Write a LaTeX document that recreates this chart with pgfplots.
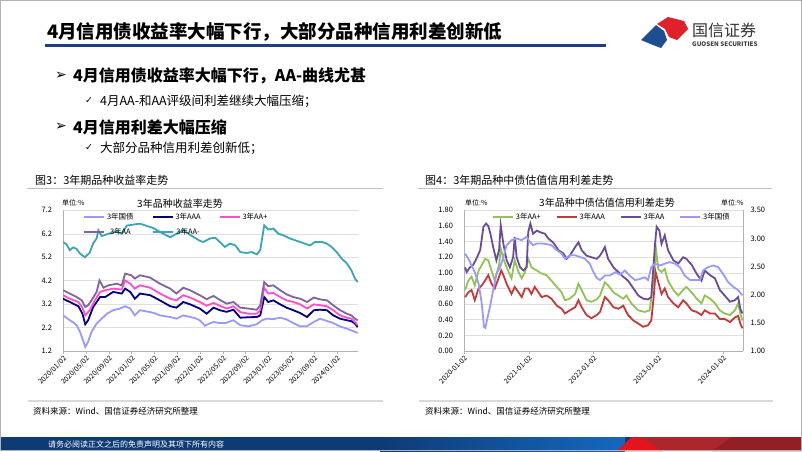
\documentclass[border=0pt]{standalone}
\usepackage{pgfplots}
\pgfplotsset{compat=1.18}
\usepackage{fontspec}
\setmainfont{Noto Sans CJK SC}
\newfontfamily\dejavu{DejaVu Sans}

\definecolor{cGov}{HTML}{9999FF}
\definecolor{cAAA}{HTML}{000080}
\definecolor{cAAp}{HTML}{FF4FC8}
\definecolor{cAA}{HTML}{8064A2}
\definecolor{cAAm}{HTML}{3AA5B5}
\definecolor{rAAp}{HTML}{92C353}
\definecolor{rAAA}{HTML}{C23B3B}
\definecolor{rAA}{HTML}{6A4C9C}
\definecolor{hdr}{HTML}{1F3F7A}
\definecolor{banA}{HTML}{0F3B74}
\definecolor{banB}{HTML}{1668BE}
\definecolor{banR}{HTML}{AC262D}
\definecolor{banRR}{HTML}{E5141C}
\definecolor{banD}{HTML}{931E24}
\definecolor{logoR}{HTML}{E0202A}
\definecolor{logoB}{HTML}{1D4E8F}

\pgfplotsset{
  slide/.style={
    scale only axis,
    axis x line*=bottom, axis y line*=left,
    axis line style={draw=gray!60, line width=0.6pt, -},
    tick align=outside, major tick length=2.5pt,
    xtick style={draw=gray!60},
    ytick style={draw=none},
    ymajorgrids, major grid style={draw=gray!25, line width=0.5pt},
    /pgf/number format/assume math mode=true,
    yticklabel style={font=\fontsize{7.5}{8}\selectfont, xshift=-5pt},
    xticklabel style={rotate=45, anchor=north east, font=\fontsize{7}{8}\selectfont, inner sep=1pt},
    legend image code/.code={\draw[##1] (0pt,0pt) -- (20pt,0pt);},
    every axis plot/.append style={line width=1.8pt},
  }
}

\begin{document}
\begin{tikzpicture}[x=1pt,y=-1pt]
\path[use as bounding box] (0,0) rectangle (802,451);
\fill[white] (0,0) rectangle (802,451);

% header
\node[anchor=west, inner sep=0, font=\fontsize{18.5}{20}\selectfont\bfseries] at (47,32) {4月信用债收益率大幅下行，大部分品种信用利差创新低};
\draw[hdr, line width=2.2pt] (45,45.5) -- (606,45.5);
\fill[logoB] (641,40) -- (656,25) -- (664,31) -- (667,40) -- (661,48) -- (653,45) -- cycle;
\fill[logoR] (657,24) -- (668,17) -- (684,21) -- (688,29) -- (677,40) -- (669,37) -- (665,29) -- cycle;
\node[anchor=west, inner sep=0, font=\fontsize{16}{17}\selectfont, text=black!80] at (692,30) {国信证券};
\node[anchor=west, inner sep=0, font=\fontsize{6.2}{7}\selectfont\bfseries, text=black!75] at (692,44) {GUOSEN SECURITIES};

% bullets
\node[anchor=west, inner sep=0, font=\dejavu\fontsize{14}{15}\selectfont] at (55,76) {➢};
\node[anchor=west, inner sep=0, font=\fontsize{16}{18}\selectfont\bfseries] at (73,76) {4月信用债收益率大幅下行，AA-曲线尤甚};
\node[anchor=west, inner sep=0, font=\dejavu\fontsize{9.5}{10}\selectfont] at (85,101) {✓};
\node[anchor=west, inner sep=0, font=\fontsize{12.5}{14}\selectfont] at (100,101) {4月AA-和AA评级间利差继续大幅压缩；};
\node[anchor=west, inner sep=0, font=\dejavu\fontsize{14}{15}\selectfont] at (55,127) {➢};
\node[anchor=west, inner sep=0, font=\fontsize{16}{18}\selectfont\bfseries] at (73,127) {4月信用利差大幅压缩};
\node[anchor=west, inner sep=0, font=\dejavu\fontsize{9.5}{10}\selectfont] at (85,148) {✓};
\node[anchor=west, inner sep=0, font=\fontsize{12.5}{14}\selectfont] at (100,148) {大部分品种信用利差创新低；};

% captions and rules
\node[anchor=west, inner sep=0, font=\fontsize{11}{12}\selectfont] at (35,180) {图3：3年期品种收益率走势};
\node[anchor=west, inner sep=0, font=\fontsize{11}{12}\selectfont] at (425,180) {图4：3年期品种中债估值信用利差走势};
\draw[gray!50, line width=0.6pt] (27,188) -- (383,188);
\draw[gray!50, line width=0.6pt] (418,188) -- (772,188);
\draw[gray!30, line width=2.5pt] (28,401) -- (383,401);
\draw[gray!30, line width=2.5pt] (419,401) -- (773,401);
\node[anchor=west, inner sep=0, font=\fontsize{8.5}{9}\selectfont] at (33,411) {资料来源：Wind、国信证券经济研究所整理};
\node[anchor=west, inner sep=0, font=\fontsize{8.5}{9}\selectfont] at (425,411) {资料来源：Wind、国信证券经济研究所整理};

% chart titles and units
\node[font=\fontsize{10}{11}\selectfont, inner sep=0] at (180,204) {3年品种收益率走势};
\node[anchor=west, inner sep=0, font=\fontsize{7}{8}\selectfont] at (62,203) {单位:\%};
\node[font=\fontsize{10}{11}\selectfont, inner sep=0] at (607,203) {3年品种中债估值信用利差走势};
\node[anchor=west, inner sep=0, font=\fontsize{7}{8}\selectfont] at (465,203) {单位:\%};
\node[anchor=west, inner sep=0, font=\fontsize{7}{8}\selectfont] at (721,203) {单位:\%};

% ---------- Figure 3: yields ----------
\begin{axis}[slide,
  at={(63pt,-351pt)}, anchor=south west,
  width=295pt, height=140.7pt,
  xmin=0, xmax=51.75, ymin=1.2, ymax=7.2,
  ytick={1.2,2.2,3.2,4.2,5.2,6.2,7.2},
  yticklabel style={/pgf/number format/.cd, fixed, fixed zerofill, precision=1},
  xtick={0,4,8,12,16,20,24,28,32,36,40,44,48},
  xticklabels={2020/01/02,2020/05/02,2020/09/02,2021/01/02,2021/05/02,2021/09/02,2022/01/02,2022/05/02,2022/09/02,2023/01/02,2023/05/02,2023/09/02,2024/01/02},
  legend columns=3,
  legend style={at={(0.068,0.995)}, anchor=north west, draw=none, fill=none,
    font=\fontsize{7.5}{8}\selectfont, inner sep=0pt, row sep=3pt,
    /tikz/every even column/.append style={column sep=16pt}},
]
\addplot[cGov] coordinates {
(0,2.72) (0.6,2.62) (1.2,2.51) (1.8,2.42) (2.4,2.30) (3.0,2.01) (3.6,1.59) (3.9,1.37)
(4.4,1.59) (5.0,2.01) (5.9,2.37) (6.8,2.58) (7.7,2.79) (8.8,2.94) (10.0,3.01) (10.9,3.11)
(11.8,3.01) (12.6,2.72) (13.5,2.94) (14.4,2.90) (15.3,2.86) (16.2,2.80) (17.0,2.72) (18.0,2.68)
(18.8,2.65) (19.9,2.58) (21.1,2.72) (22.3,2.65) (23.2,2.60) (24.0,2.51) (24.9,2.28) (25.6,2.36)
(26.4,2.44) (27.5,2.39) (28.6,2.40) (29.9,2.51) (31.1,2.30) (32.5,2.25) (34.0,2.34) (34.9,2.51)
(35.7,2.58) (36.9,2.56) (38.1,2.62) (39.2,2.55) (40.4,2.39) (41.6,2.25) (42.8,2.26) (44.0,2.44)
(45.1,2.58) (46.3,2.48) (47.4,2.39) (48.6,2.25) (49.8,2.15) (51.0,2.04) (51.7,1.97)
};
\addplot[cAAA] coordinates {
(0,3.43) (1.2,3.29) (2.7,3.11) (3.4,2.80) (3.9,2.34) (4.4,2.51) (5.3,3.08) (6.5,3.50)
(7.4,3.50) (8.8,3.72) (10.3,3.65) (10.9,3.86) (11.8,3.72) (12.6,3.43) (13.5,3.65) (15.3,3.58)
(17.0,3.36) (18.8,3.11) (19.9,3.05) (21.1,3.29) (22.3,3.19) (24.0,3.01) (25.2,2.79) (26.4,3.05)
(27.5,2.94) (28.7,2.87) (29.9,2.96) (31.1,2.62) (32.5,2.64) (34.0,2.65) (34.6,2.72) (35.3,3.50)
(36.0,3.29) (36.9,3.36) (38.1,3.19) (39.2,3.05) (40.4,2.94) (41.6,2.82) (42.8,2.65) (44.0,2.94)
(45.1,2.96) (46.3,2.94) (47.4,2.72) (48.6,2.58) (49.8,2.51) (50.6,2.47) (51.2,2.37) (51.7,2.22)
};
\addplot[cAAp] coordinates {
(0,3.58) (1.2,3.43) (2.7,3.29) (3.4,3.05) (3.9,2.72) (4.7,2.94) (5.6,3.36) (6.5,3.72)
(7.4,3.79) (8.8,3.86) (10.3,3.82) (10.9,4.21) (11.8,4.07) (12.6,3.86) (13.5,4.00) (15.3,3.90)
(17.0,3.65) (18.8,3.43) (19.9,3.36) (21.1,3.58) (22.3,3.48) (24.0,3.29) (25.2,3.13) (26.4,3.25)
(27.5,3.13) (28.7,3.01) (29.9,3.11) (31.1,2.86) (32.5,2.79) (34.0,2.79) (34.6,2.94) (35.3,3.90)
(36.0,3.65) (36.9,3.68) (38.1,3.50) (39.2,3.36) (40.4,3.29) (41.6,3.19) (42.8,3.01) (44.0,3.19)
(45.1,3.15) (46.3,3.11) (47.4,2.94) (48.6,2.72) (49.8,2.62) (50.6,2.58) (51.2,2.44) (51.7,2.30)
};
\addplot[cAA] coordinates {
(0,3.79) (1.2,3.65) (2.4,3.50) (3.3,3.36) (3.9,3.08) (4.4,3.15) (5.0,3.36) (5.9,3.72)
(6.4,4.21) (7.1,3.90) (7.95,4.00) (9.4,4.07) (10.3,4.00) (10.9,4.50) (12.0,4.43) (12.6,4.29)
(13.5,4.43) (15.3,4.33) (17.0,4.07) (18.8,3.86) (19.9,3.65) (21.1,3.90) (22.3,3.79) (24.0,3.58)
(25.2,3.41) (26.4,3.55) (27.5,3.38) (28.7,3.22) (29.9,3.29) (31.1,3.05) (32.5,3.01) (34.0,2.96)
(34.6,3.15) (35.3,4.14) (36.0,3.96) (36.9,4.00) (38.1,3.79) (39.2,3.62) (40.4,3.50) (41.6,3.43)
(42.8,3.29) (44.0,3.48) (45.1,3.40) (46.3,3.36) (47.4,3.15) (48.6,2.94) (49.8,2.79) (50.6,2.72)
(51.2,2.58) (51.7,2.51)
};
\addplot[cAAm] coordinates {
(0,5.85) (0.6,5.75) (1.2,5.50) (1.8,5.62) (2.4,5.55) (3.0,5.35) (3.86,5.20) (4.7,5.40)
(5.3,5.80) (5.9,6.00) (6.2,6.35) (6.8,6.10) (7.95,6.20) (9.4,6.30) (10.3,6.20) (11.2,6.55)
(12.6,6.60) (13.5,6.63) (14.5,6.55) (15.8,6.45) (17.6,6.20) (18.8,6.05) (19.9,6.20) (21.1,6.35)
(22.3,6.15) (24.0,5.90) (24.6,5.85) (25.8,6.00) (26.7,6.03) (27.5,5.85) (28.4,5.64) (29.3,5.78)
(30.2,5.71) (31.1,5.42) (32.2,5.38) (33.1,5.42) (34.0,5.32) (34.6,5.50) (35.3,6.56) (36.0,6.38)
(36.9,6.42) (37.8,6.20) (38.7,6.13) (39.8,6.00) (41.0,5.90) (42.2,5.80) (43.3,5.70) (44.2,5.85)
(45.4,5.85) (46.3,5.78) (47.1,5.64) (48.0,5.42) (48.9,5.14) (49.8,4.93) (50.6,4.64) (51.2,4.29)
(51.7,4.14)
};
\legend{3年国债,3年AAA,3年AA+,3年AA,3年AA-}
\end{axis}

% ---------- Figure 4: spreads ----------
\begin{axis}[slide,
  at={(464pt,-351pt)}, anchor=south west,
  width=279pt, height=140.7pt,
  xmin=0, xmax=51.7, ymin=0, ymax=1.8,
  ytick={0,0.2,0.4,0.6,0.8,1.0,1.2,1.4,1.6,1.8},
  yticklabel style={/pgf/number format/.cd, fixed, fixed zerofill, precision=2},
  xtick={0,12,24,36,48},
  xticklabels={2020-01-02,2021-01-02,2022-01-02,2023-01-02,2024-01-02},
  legend columns=4,
  legend style={at={(0.1,0.995)}, anchor=north west, draw=none, fill=none,
    font=\fontsize{7.5}{8}\selectfont, inner sep=0pt,
    /tikz/every even column/.append style={column sep=13pt}},
]
\addplot[rAAp] coordinates {
(0.2,0.78) (0.8,0.90) (1.4,0.95) (2.0,0.84) (2.7,1.03) (3.3,1.10) (3.9,1.18) (4.5,1.16)
(5.1,1.03) (5.7,0.90) (6.5,1.10) (6.8,1.31) (7.3,1.18) (7.9,1.07) (8.8,0.93) (9.4,1.16)
(10.1,1.01) (10.7,0.93) (11.3,1.01) (11.9,1.18) (12.5,1.07) (13.5,1.03) (14.4,0.99) (15.3,0.97)
(16.2,0.90) (17.2,0.82) (18.1,0.75) (18.7,0.65) (19.6,0.67) (20.6,0.73) (21.2,0.86) (21.8,0.78)
(22.7,0.65) (23.6,0.63) (24.6,0.66) (25.2,0.71) (26.1,0.88) (26.7,0.84) (27.7,0.75) (28.6,0.71)
(29.5,0.67) (30.1,0.71) (31.0,0.61) (32.3,0.52) (33.5,0.50) (34.4,0.52) (35.1,0.90) (35.6,1.29)
(36.0,1.05) (36.6,1.01) (37.2,1.05) (37.8,0.90) (38.8,0.78) (39.7,0.71) (40.6,0.78) (41.2,0.82)
(42.2,0.75) (43.1,0.67) (44.0,0.61) (44.6,0.71) (45.6,0.67) (46.5,0.61) (47.4,0.52) (48.3,0.48)
(49.3,0.46) (50.2,0.52) (50.8,0.61) (51.2,0.48) (51.6,0.39)
};
\addplot[rAAA] coordinates {
(0.2,0.69) (0.8,0.75) (1.4,0.78) (2.0,0.65) (2.7,0.80) (3.3,0.84) (3.9,0.90) (4.5,0.97)
(5.1,0.86) (5.7,0.80) (6.5,0.95) (6.9,1.03) (7.3,0.97) (7.9,0.86) (8.8,0.73) (9.4,0.82)
(10.1,0.75) (10.7,0.69) (11.3,0.80) (11.9,0.80) (12.5,0.73) (13.1,0.82) (13.8,0.75) (14.4,0.69)
(15.3,0.71) (16.2,0.67) (17.2,0.58) (18.1,0.54) (18.7,0.48) (19.6,0.52) (20.6,0.56) (21.2,0.65)
(21.8,0.56) (22.7,0.46) (23.6,0.42) (24.6,0.46) (25.2,0.50) (26.1,0.69) (26.7,0.65) (27.7,0.56)
(28.6,0.54) (29.5,0.58) (30.4,0.46) (31.4,0.39) (32.3,0.35) (33.2,0.31) (34.1,0.33) (34.7,0.39)
(35.2,0.73) (35.5,1.01) (36.0,0.88) (36.6,0.73) (37.2,0.80) (37.8,0.69) (38.8,0.61) (39.7,0.56)
(40.6,0.65) (41.2,0.61) (42.2,0.52) (43.1,0.50) (44.0,0.46) (44.6,0.52) (45.6,0.48) (46.5,0.48)
(47.4,0.41) (48.3,0.41) (49.3,0.37) (50.2,0.43) (50.8,0.45) (51.2,0.35) (51.6,0.29)
};
\addplot[rAA] coordinates {
(0.2,1.07) (0.5,1.01) (1.1,1.07) (1.7,1.10) (2.3,1.18) (3.0,1.29) (3.6,1.59) (4.1,1.63)
(4.5,1.60) (4.9,1.50) (5.4,1.33) (6.0,1.16) (6.5,1.29) (6.8,1.61) (7.3,1.37) (7.9,1.16)
(8.5,1.07) (9.1,1.20) (9.4,1.46) (9.75,1.20) (10.4,1.07) (11.0,1.03) (11.6,1.07) (11.9,1.52)
(12.3,1.63) (12.8,1.50) (13.5,1.54) (14.1,1.52) (15.0,1.50) (15.6,1.44) (16.5,1.39) (17.5,1.29)
(18.4,1.25) (19.0,1.18) (19.6,1.22) (20.6,1.33) (21.2,1.39) (21.8,1.29) (22.7,1.22) (23.6,1.20)
(24.6,1.18) (25.2,1.22) (25.8,1.29) (26.1,1.33) (26.7,1.18) (27.7,1.07) (28.6,1.01) (29.5,0.95)
(30.4,0.90) (31.4,0.80) (32.3,0.71) (33.2,0.67) (34.1,0.66) (34.7,0.69) (35.4,1.37) (35.7,1.59)
(36.2,1.54) (36.6,1.37) (37.2,1.48) (37.8,1.29) (38.8,1.16) (39.7,1.12) (40.6,1.20) (41.2,1.18)
(42.2,1.10) (43.1,0.99) (44.0,0.90) (44.6,1.03) (45.6,0.97) (46.5,0.93) (47.4,0.78) (48.3,0.71)
(49.3,0.63) (50.2,0.65) (50.8,0.69) (51.2,0.54) (51.6,0.48)
};
\addlegendimage{cGov, line width=1.8pt}
\legend{3年AA+,3年AAA,3年AA,3年国债}
\end{axis}
\begin{axis}[
  at={(464pt,-351pt)}, anchor=south west,
  scale only axis, width=279pt, height=140.7pt,
  xmin=0, xmax=51.7, ymin=1, ymax=3.5,
  axis x line=none, axis y line*=right,
  axis line style={draw=gray!60, line width=0.6pt, -},
  ytick={1,1.5,2,2.5,3,3.5}, ytick style={draw=none},
  /pgf/number format/assume math mode=true,
  yticklabel style={font=\fontsize{7.5}{8}\selectfont, xshift=4pt,
    /pgf/number format/.cd, fixed, fixed zerofill, precision=2},
]
\addplot[cGov, line width=1.8pt] coordinates {
(0.2,2.73) (0.8,2.64) (1.4,2.52) (2.0,2.40) (2.7,2.20) (3.3,1.84) (3.7,1.43) (3.95,1.41)
(4.3,1.57) (4.8,1.78) (5.4,2.08) (6.0,2.37) (6.7,2.49) (7.3,2.67) (7.9,2.88) (8.8,2.97)
(9.75,3.00) (10.7,2.97) (11.6,3.03) (12.2,2.94) (12.8,2.88) (13.5,2.91) (14.4,2.91) (15.3,2.90)
(16.2,2.88) (17.2,2.79) (18.1,2.73) (18.7,2.64) (19.6,2.70) (20.6,2.70) (21.5,2.67) (22.4,2.64)
(23.3,2.55) (24.0,2.40) (24.6,2.30) (25.2,2.26) (26.1,2.34) (27.0,2.34) (28.0,2.40) (28.9,2.36)
(29.8,2.43) (30.7,2.34) (31.7,2.26) (32.6,2.28) (33.5,2.31) (34.1,2.26) (34.7,2.49) (35.4,2.55)
(36.3,2.52) (37.2,2.55) (38.1,2.58) (39.1,2.55) (40.0,2.49) (40.9,2.34) (41.9,2.26) (42.8,2.26)
(43.7,2.26) (44.3,2.43) (45.2,2.49) (46.2,2.52) (47.1,2.49) (48.0,2.37) (48.9,2.23) (49.9,2.14)
(50.8,2.08) (51.6,1.99)
};
\end{axis}

% footer banner
\fill[banA] (0,437) rectangle (802,451);
\shade[left color=banA, right color=banB] (380,437) rectangle (625,451);
\fill[banR] (617,451) -- (632,437) -- (802,437) -- (802,451) -- cycle;
\fill[banRR] (617,451) -- (632,437) -- (645,440) -- (662,451) -- cycle;
\fill[banD] (712,451) -- (732,437) -- (802,437) -- (802,451) -- cycle;
\node[anchor=west, inner sep=0, text=white, font=\fontsize{8}{9}\selectfont] at (48,444) {请务必阅读正文之后的免责声明及其项下所有内容};

\draw[gray!60, line width=0.8pt] (0.4,0.4) rectangle (801.6,450.6);
\end{tikzpicture}
\end{document}
